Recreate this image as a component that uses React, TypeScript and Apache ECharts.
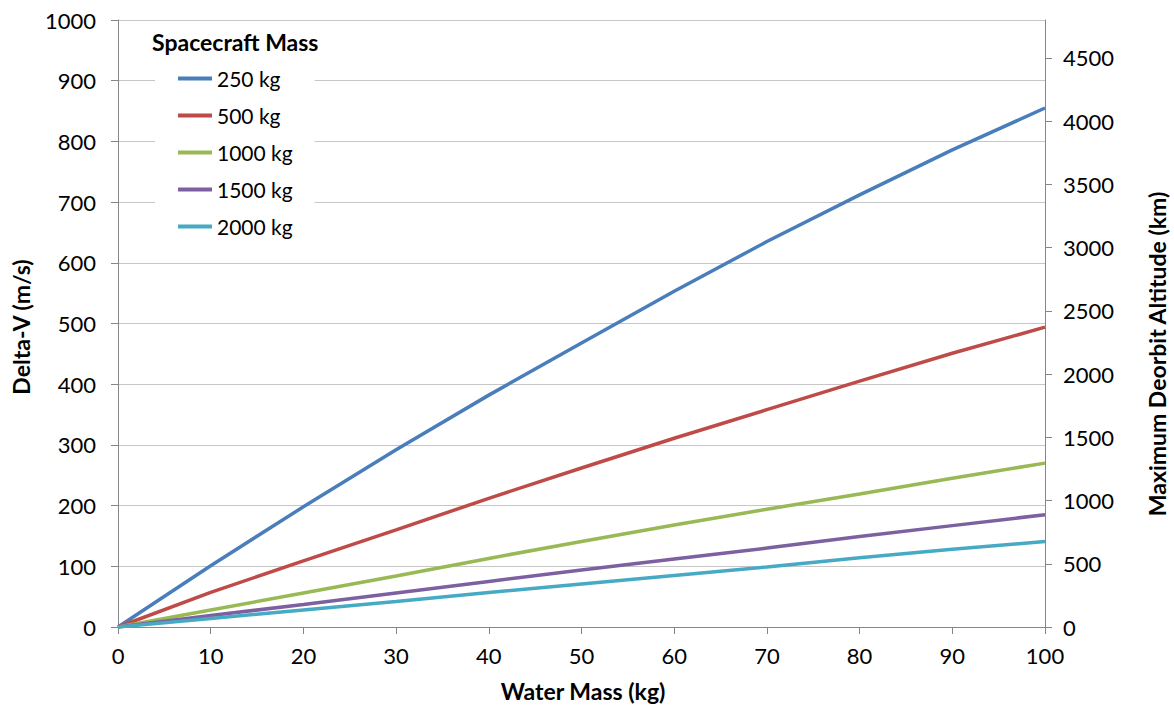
import React, { useEffect, useRef } from "react";
import * as echarts from "echarts";

const waterMass = [0, 10, 20, 30, 40, 50, 60, 70, 80, 90, 100];
const seriesNames = ["250 kg", "500 kg", "1000 kg", "1500 kg", "2000 kg"];
const dv250 = [0, 101, 198, 292, 382, 468, 553, 635, 712, 786, 855];
const dv500 = [0, 57, 109, 160, 212, 262, 311, 358, 405, 451, 494];
const dv1000 = [0, 28, 56, 84, 113, 141, 168, 194, 219, 245, 270];
const dv1500 = [0, 19, 37, 56, 75, 94, 112, 130, 149, 167, 185];
const dv2000 = [0, 14, 28, 42, 57, 71, 85, 99, 114, 128, 141];
const colors = ["#4A7EBB", "#BE4B48", "#98B954", "#7D60A0", "#46AAC5"];
const altitudeTicks = [0, 500, 1000, 1500, 2000, 2500, 3000, 3500, 4000, 4500];

const FONT = "Lato";

export default function App() {
  const ref = useRef<HTMLDivElement>(null);
  useEffect(() => {
    if (!ref.current) return;
    const chart = echarts.init(ref.current, null, { renderer: "svg" });
    const allSeries = [dv250, dv500, dv1000, dv1500, dv2000];
    const axisGrey = "#868686";
    const fmt = (v: number) => String(v);
    chart.setOption({
      animation: false,
      backgroundColor: "#ffffff",
      textStyle: { fontFamily: FONT },
      grid: { left: 118, right: 129, top: 20, bottom: 79, outerBoundsMode: "none" },
      xAxis: {
        type: "value",
        min: 0,
        max: 100,
        interval: 10,
        axisLine: { show: true, onZero: false, lineStyle: { color: axisGrey, width: 1 } },
        axisTick: { show: true, inside: false, length: 7, lineStyle: { color: axisGrey } },
        axisLabel: { color: "#000", fontSize: 22, fontFamily: FONT, margin: 17, formatter: fmt },
        splitLine: { show: false },
      },
      yAxis: [
        {
          type: "value",
          min: 0,
          max: 1000,
          interval: 100,
          axisLine: { show: true, lineStyle: { color: axisGrey, width: 1 } },
          axisTick: { show: true, inside: false, length: 7, lineStyle: { color: axisGrey } },
          axisLabel: { color: "#000", fontSize: 22, fontFamily: FONT, margin: 22, formatter: fmt },
          splitLine: { show: true, lineStyle: { color: "#C6C6C6", width: 1 } },
        },
        {
          type: "value",
          position: "right",
          min: 0,
          max: 4800,
          interval: 500,
          axisLine: { show: true, lineStyle: { color: axisGrey, width: 1 } },
          axisTick: {
            show: true,
            inside: false,
            length: 7,
            lineStyle: { color: axisGrey },
            customValues: altitudeTicks,
          },
          axisLabel: {
            color: "#000",
            fontSize: 22,
            fontFamily: FONT,
            margin: 18,
            formatter: fmt,
            customValues: altitudeTicks,
          },
          splitLine: { show: false },
        },
      ],
      legend: {
        orient: "vertical",
        left: 155,
        top: 24,
        padding: [44, 22, 10, 23],
        backgroundColor: "#ffffff",
        data: seriesNames,
        icon: "rect",
        itemWidth: 34,
        itemHeight: 4,
        itemGap: 16,
        textStyle: { color: "#000", fontSize: 21, fontFamily: FONT, lineHeight: 20, padding: [0, 0, 0, 0] },
        z: 5,
      },
      graphic: [
        {
          type: "text",
          left: 152,
          top: 30,
          z: 100,
          style: { text: "Spacecraft Mass", fontSize: 23, fontWeight: "bold", fontFamily: FONT, fill: "#000" },
        },
        {
          type: "text",
          x: 21,
          y: 327,
          rotation: Math.PI / 2,
          z: 100,
          style: {
            text: "Delta-V (m/s)",
            fontSize: 23,
            fontWeight: "bold",
            fontFamily: FONT,
            fill: "#000",
            align: "center",
            verticalAlign: "middle",
          },
        },
        {
          type: "text",
          x: 1157,
          y: 354,
          rotation: Math.PI / 2,
          z: 100,
          style: {
            text: "Maximum Deorbit Altitude (km)",
            fontSize: 23,
            fontWeight: "bold",
            fontFamily: FONT,
            fill: "#000",
            align: "center",
            verticalAlign: "middle",
          },
        },
        {
          type: "text",
          x: 583,
          y: 691,
          z: 100,
          style: {
            text: "Water Mass (kg)",
            fontSize: 23,
            fontWeight: "bold",
            fontFamily: FONT,
            fill: "#000",
            align: "center",
            verticalAlign: "middle",
          },
        },
      ],
      series: allSeries.map((vals, i) => ({
        name: seriesNames[i],
        type: "line",
        yAxisIndex: 0,
        symbol: "none",
        smooth: false,
        color: colors[i],
        lineStyle: { color: colors[i], width: 3.5 },
        data: waterMass.map((w, j) => [w, vals[j]]),
        z: 2,
      })),
    });
    return () => chart.dispose();
  }, []);
  return (
    <div
      ref={ref}
      style={{ position: "fixed", left: 0, top: 0, width: 1174, height: 706 }}
    />
  );
}
